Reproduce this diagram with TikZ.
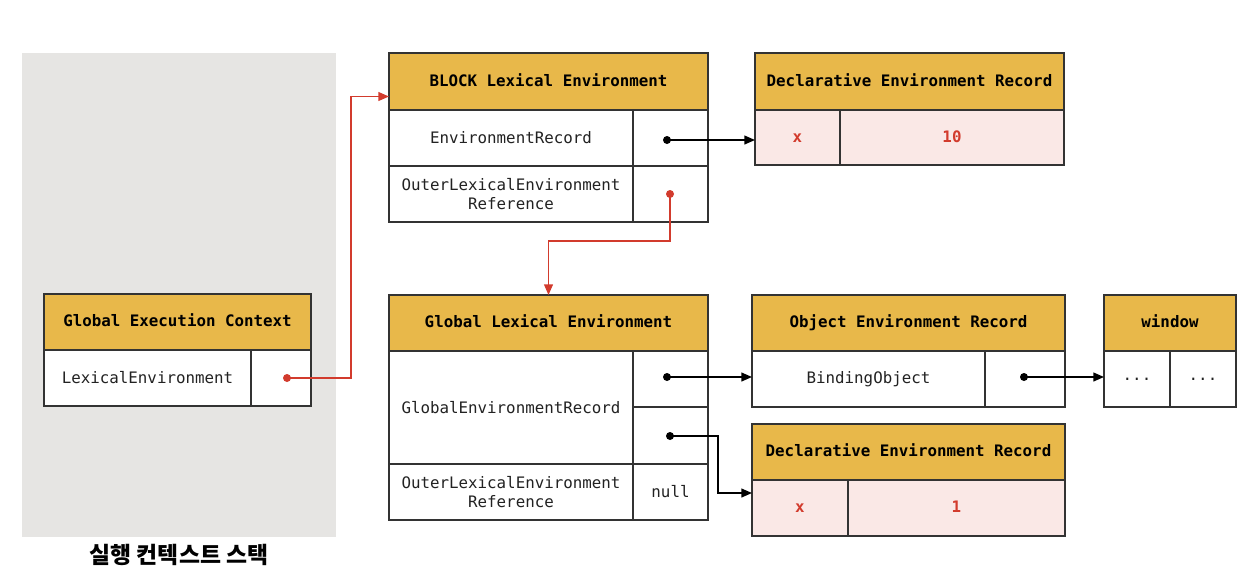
\documentclass[tikz,border=0pt]{standalone}
\usepackage{fontspec}
\setmonofont{DejaVu Sans Mono}
\newfontfamily\kfont{Noto Sans CJK KR}
\usetikzlibrary{arrows.meta,calc}
\definecolor{headgold}{HTML}{E8B84A}
\definecolor{pinkrow}{HTML}{FAE8E6}
\definecolor{stackgray}{HTML}{E6E5E3}
\definecolor{linkred}{HTML}{D23B2D}
\definecolor{inkgray}{HTML}{222222}
% one table cell, given by its corners in pixels
\newcommand\tcell[7]{\node[#2, minimum width={(#5-#3)*0.02cm}, minimum height={(#6-#4)*0.02cm}] (#1) at ({(#3+#5)/2},{(#4+#6)/2}) {#7};}

\begin{document}
\begin{tikzpicture}[x=0.02cm, y=-0.02cm,
    tblbox/.style={draw=black!80, line width=0.8pt, inner sep=0pt, outer sep=0pt, font=\ttfamily\fontsize{9}{11}\selectfont},
    tblhead/.style={tblbox, fill=headgold, text height=1.6ex, text depth=0.3ex, font=\ttfamily\bfseries\fontsize{9}{11}\selectfont},
    tblcell/.style={tblbox, fill=white, text=inkgray, align=center},
    pinkcell/.style={tblbox, fill=pinkrow, text=linkred, text height=1.6ex, text depth=0.3ex, font=\ttfamily\bfseries\fontsize{9}{11}\selectfont},
    dot/.style={circle, fill=black, inner sep=0pt, minimum size=0.16cm},
    reddot/.style={dot, fill=linkred},
    link/.style={line width=0.8pt, -{Triangle[length=6pt,width=5pt]}},
    redlink/.style={link, draw=linkred, -{Triangle[length=6pt,width=5pt,fill=linkred]}}]
  %%%%% START %%%%%
  \useasboundingbox (0,0) rectangle (1252,576);

  % execution context stack
  \fill[stackgray] (22,53) rectangle (336,537);
  \node[font=\kfont\bfseries\fontsize{13}{15}\selectfont] (stacklbl) at (179,555) {실행 컨텍스트 스택};

  \tcell{gechead}{tblhead}{44}{294}{311}{350}{Global Execution Context}
  \tcell{geclex}{tblcell}{44}{350}{251}{406}{LexicalEnvironment}
  \tcell{gecref}{tblcell}{251}{350}{311}{406}{}
  \node[reddot] (gecdot) at (287,378) {};

  % block lexical environment
  \tcell{blkhead}{tblhead}{389}{53}{708}{110}{BLOCK Lexical Environment}
  \tcell{blker}{tblcell}{389}{110}{633}{166}{EnvironmentRecord}
  \tcell{blkerref}{tblcell}{633}{110}{708}{166}{}
  \tcell{blkout}{tblcell}{389}{166}{633}{222}{OuterLexicalEnvironment\\Reference}
  \tcell{blkoutref}{tblcell}{633}{166}{708}{222}{}
  \node[dot] (blkerdot) at (667,140) {};
  \node[reddot] (blkoutdot) at (670,194) {};

  \tcell{declahead}{tblhead}{755}{53}{1064}{110}{Declarative Environment Record}
  \tcell{declax}{pinkcell}{755}{110}{840}{165}{x}
  \tcell{declaval}{pinkcell}{840}{110}{1064}{165}{10}

  % global lexical environment
  \tcell{glbhead}{tblhead}{389}{295}{708}{351}{Global Lexical Environment}
  \tcell{glber}{tblcell}{389}{351}{633}{464}{GlobalEnvironmentRecord}
  \tcell{glbobjref}{tblcell}{633}{351}{708}{407}{}
  \tcell{glbdclref}{tblcell}{633}{407}{708}{464}{}
  \tcell{glbout}{tblcell}{389}{464}{633}{520}{OuterLexicalEnvironment\\Reference}
  \tcell{glbnull}{tblcell}{633}{464}{708}{520}{null}
  \node[dot] (glbobjdot) at (667,377) {};
  \node[dot] (glbdcldot) at (670,436) {};

  \tcell{objhead}{tblhead}{752}{295}{1065}{351}{Object Environment Record}
  \tcell{objbind}{tblcell}{752}{351}{985}{407}{BindingObject}
  \tcell{objref}{tblcell}{985}{351}{1065}{407}{}
  \node[dot] (objdot) at (1024,377) {};

  \tcell{winhead}{tblhead}{1104}{295}{1236}{351}{window}
  \tcell{wincella}{tblcell}{1104}{351}{1170}{407}{...}
  \tcell{wincellb}{tblcell}{1170}{351}{1236}{407}{...}

  \tcell{declbhead}{tblhead}{752}{424}{1065}{480}{Declarative Environment Record}
  \tcell{declbx}{pinkcell}{752}{480}{848}{536}{x}
  \tcell{declbval}{pinkcell}{848}{480}{1065}{536}{1}

  % references
  \draw[redlink] (gecdot.center) -- ++(64,0) |- ([yshift=-0.3cm]blkhead.west);
  \draw[redlink] (blkoutdot.center) -- ++(0,47) -| (glbhead.north);
  \draw[link] (blkerdot.center) -- (blkerdot -| declax.west);
  \draw[link] (glbobjdot.center) -- (glbobjdot -| objbind.west);
  \draw[link] (glbdcldot.center) -- ++(48,0) |- ([yshift=0.3cm]declbx.west);
  \draw[link] (objdot.center) -- (objdot -| wincella.west);
  %%%%% END %%%%%
\end{tikzpicture}
\end{document}
